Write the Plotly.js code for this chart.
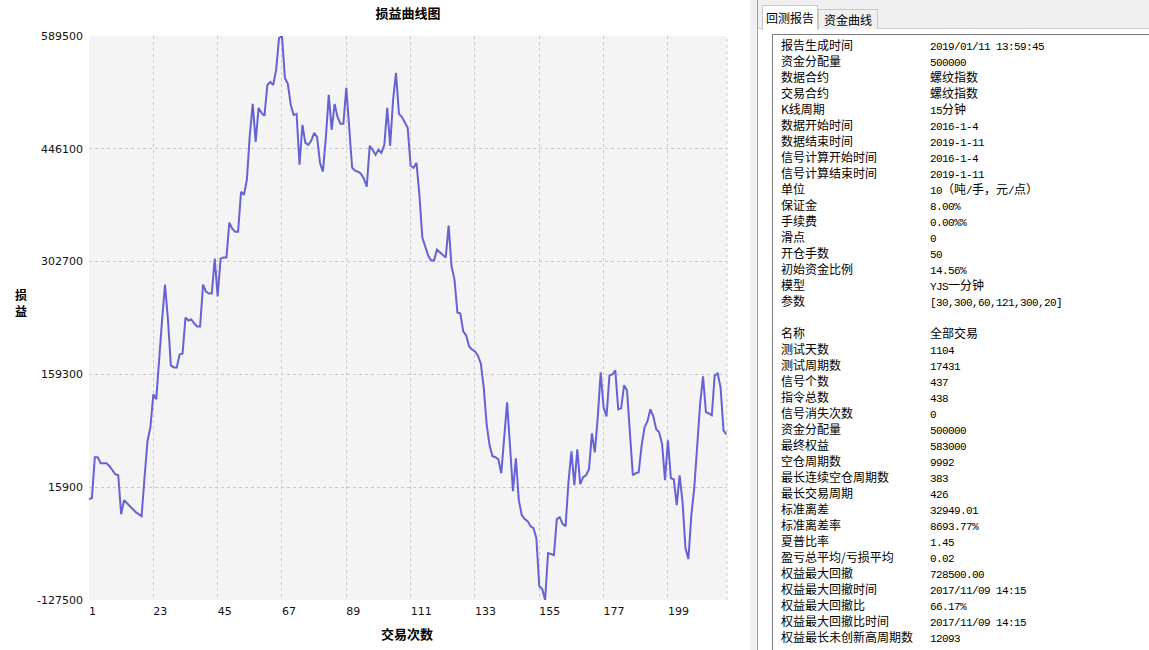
<!DOCTYPE html>
<html>
<head>
<meta charset="utf-8">
<script src="https://cdn.plot.ly/plotly-3.0.1.min.js"></script>
<style>
html, body { margin: 0; padding: 0; background: #fff; width: 1149px; height: 650px; overflow: hidden; }
#chart { position: absolute; left: 0; top: 0; width: 750px; height: 650px; }
#panel { position: absolute; left: 750px; top: 0; width: 399px; height: 650px; background: #f0f0f0; overflow: hidden;
  font-family: "Noto Sans CJK SC", sans-serif; font-size: 12px; color: #000; }
#splitline { position: absolute; left: 7px; top: 0; width: 1px; height: 650px; background: #a0a0a0; }
#page { position: absolute; left: 8px; top: 28px; width: 400px; height: 640px; background: #fff; border-top: 1px solid #d0d0d0; }
.tab { position: absolute; box-sizing: border-box; text-align: center; font-family: "Noto Sans CJK SC", sans-serif; font-size: 12px; }
#tab1 { left: 12px; top: 5px; width: 56px; height: 25px; line-height: 23px; background: #fff; border: 1px solid #c8c8c8; border-bottom: none; z-index: 2; }
#tab2 { left: 68px; top: 9px; width: 60px; height: 20px; line-height: 20px; background: #f0f0f0; border: 1px solid #c8c8c8; border-bottom: none; }
#list { position: absolute; left: 22px; top: 34px; width: 420px; height: 640px; background: #fff; border: 1px solid #7a7a7a; }
.row { position: absolute; height: 16px; line-height: 16px; white-space: nowrap; font-family: "Noto Sans CJK SC", sans-serif; }
.lab { left: 31px; }
.val { left: 180px; }
.asc { font-family: "Liberation Mono", monospace; font-size: 11px; letter-spacing: -0.6px; }
</style>
</head>
<body>
<div id="chart"></div>
<div id="panel">
  <div id="splitline"></div>
  <div id="page"></div>
  <div class="tab" id="tab1">回测报告</div>
  <div class="tab" id="tab2">资金曲线</div>
  <div id="list"></div>
</div>
<script>
// ---- chart data ----
const chartTitle = "损益曲线图";
const xTitle = "交易次数";
const yTitle = "损<br>益";
const xTickVals = [1, 23, 45, 67, 89, 111, 133, 155, 177, 199];
const yTickVals = [-127500, 15900, 159300, 302700, 446100, 589500];
const pnl = [
  700, 2000, 54000, 54000, 46400, 46400, 46400, 42600, 37500, 32400,
  31100, -18400, -600, -4400, -9500, -13300, -15800, -18400, -20900, 28600,
  74300, 92100, 133900, 127600, 180900, 229100, 273500, 229100, 170700, 168200,
  168200, 184700, 186000, 231600, 227800, 229100, 224000, 220200, 220200, 273500,
  264600, 262100, 262100, 306500, 258300, 306500, 307800, 307800, 352200, 344600,
  340800, 340800, 391500, 387700, 406800, 463900, 503200, 455000, 498100, 491800,
  488000, 527300, 531100, 527300, 546400, 587000, 589500, 536200, 528600, 501900,
  489200, 490500, 425800, 476600, 453700, 451200, 456300, 466400, 461300, 428300,
  416900, 460100, 514600, 470200, 503200, 486700, 477800, 477800, 523500, 476600,
  422000, 418200, 416900, 414400, 408000, 397900, 449900, 444800, 438500, 444800,
  441000, 451200, 498100, 449900, 508300, 542500, 490500, 486700, 480400, 472800,
  424500, 422000, 428300, 387700, 333200, 320500, 310300, 304000, 304000, 317900,
  314100, 310300, 307800, 348400, 296400, 279900, 238000, 236700, 213900, 208800,
  194800, 191000, 188500, 183400, 173300, 142800, 95900, 69200, 55300, 54000,
  51400, 33700, 74300, 123800, 67900, 10800, 52700, -600, -19600, -24700,
  -27200, -33600, -36100, -48800, -109700, -113500, -127500, -67800, -69100, -70400,
  -24700, -22200, -31000, -33600, 23500, 61600, 18500, 64100, 19700, 28600,
  31100, 38800, 84400, 60300, 104700, 161800, 117400, 106000, 158000, 159300,
  164400, 114900, 116200, 145400, 139000, 89500, 31100, 33700, 34900, 69200,
  92100, 99700, 114900, 106000, 89500, 85700, 70500, 24800, 75600, 27300,
  26100, -6900, 31100, -3100, -61500, -75500, -19600, 14600, 69200, 121200,
  156800, 111100, 109800, 107300, 158000, 160600, 142800, 88200, 83000
];
const tradeNo = pnl.map((_, i) => i + 1);

// ---- report panel data ----
const tabLabels = ["回测报告", "资金曲线"];
const reportLabels = ["报告生成时间","资金分配量","数据合约","交易合约","K线周期","数据开始时间","数据结束时间",
  "信号计算开始时间","信号计算结束时间","单位","保证金","手续费","滑点","开仓手数","初始资金比例","模型","参数"];
const reportValues = ["2019/01/11 13:59:45","500000","螺纹指数","螺纹指数","15分钟","2016-1-4","2019-1-11",
  "2016-1-4","2019-1-11","10（吨/手，元/点）","8.00%","0.00%%","0","50","14.56%","YJS一分钟","[30,300,60,121,300,20]"];
const statLabels = ["名称","测试天数","测试周期数","信号个数","指令总数","信号消失次数","资金分配量","最终权益",
  "空仓周期数","最长连续空仓周期数","最长交易周期","标准离差","标准离差率","夏普比率","盈亏总平均/亏损平均",
  "权益最大回撤","权益最大回撤时间","权益最大回撤比","权益最大回撤比时间","权益最长未创新高周期数"];
const statValues = ["全部交易","1104","17431","437","438","0","500000","583000","9992","383","426",
  "32949.01","8693.77%","1.45","0.02","728500.00","2017/11/09 14:15","66.17%","2017/11/09 14:15","12093"];

// ---- build panel ----
(function () {
  const panel = document.getElementById('panel');
  document.getElementById('tab1').textContent = tabLabels[0];
  document.getElementById('tab2').textContent = tabLabels[1];
  const rows = [];
  reportLabels.forEach((l, i) => rows.push([l, reportValues[i]]));
  rows.push(["", ""]);
  statLabels.forEach((l, i) => rows.push([l, statValues[i]]));
  rows.forEach((r, i) => {
    const top = 37 + 16 * i;
    const lab = document.createElement('div');
    lab.className = 'row lab';
    lab.style.top = top + 'px';
    lab.textContent = r[0];
    panel.appendChild(lab);
    const val = document.createElement('div');
    val.className = 'row val';
    val.style.top = top + 'px';
    r[1].split(/([\x20-\x7E]+)/).forEach(part => {
      if (!part) return;
      if (/^[\x20-\x7E]+$/.test(part)) {
        const s = document.createElement('span');
        s.className = 'asc';
        s.textContent = part;
        val.appendChild(s);
      } else {
        val.appendChild(document.createTextNode(part));
      }
    });
    panel.appendChild(val);
  });
})();

// ---- chart ----
const plotL = 89, plotR = 727, plotT = 36, plotB = 600, W = 750, H = 650;
const pxToPaperX = px => (px - plotL) / (plotR - plotL);
const pxToPaperY = py => (plotB - py) / (plotB - plotT);

const trace = {
  x: tradeNo, y: pnl, type: 'scatter', mode: 'lines',
  line: { color: '#6662d4', width: 2 }, hoverinfo: 'skip'
};
const gridDash = '3px,3px';
const gridColor = '#cacaca';
const layout = {
  width: W, height: H,
  margin: { l: plotL, r: W - plotR, t: plotT, b: H - plotB, pad: 0 },
  paper_bgcolor: '#ffffff', plot_bgcolor: '#f4f4f4',
  showlegend: false,
  title: { text: chartTitle, x: 0.5, xref: 'paper', y: 1 - 13 / H, yref: 'container', yanchor: 'middle',
    font: { family: 'Noto Sans CJK SC', size: 13, color: '#000', weight: 'bold' } },
  xaxis: {
    range: [1, 219.2], tickmode: 'array', tickvals: xTickVals, ticktext: xTickVals.map(String),
    showgrid: true, gridcolor: gridColor, griddash: gridDash, gridwidth: 1,
    zeroline: false, showline: false, ticks: '', ticklabelposition: 'outside right', ticklabelstandoff: 3,
    tickfont: { family: 'DejaVu Sans', size: 11, color: '#111' }, fixedrange: true
  },
  yaxis: {
    range: [-127500, 589500], tickmode: 'array', tickvals: yTickVals, ticktext: yTickVals.map(String),
    showgrid: true, gridcolor: gridColor, griddash: gridDash, gridwidth: 1,
    zeroline: false, showline: false, ticks: '', ticklabelstandoff: 5,
    tickfont: { family: 'DejaVu Sans', size: 11, color: '#111' }, fixedrange: true
  },
  shapes: [
    { type: 'line', xref: 'paper', yref: 'paper', x0: 1, x1: 1, y0: 0, y1: 1,
      line: { color: gridColor, width: 1, dash: gridDash } }
  ],
  annotations: [
    { text: xTitle, xref: 'paper', yref: 'paper', x: pxToPaperX(407), y: pxToPaperY(633),
      xanchor: 'center', yanchor: 'middle', showarrow: false,
      font: { family: 'Noto Sans CJK SC', size: 13, color: '#000', weight: 'bold' } },
    { text: yTitle, xref: 'paper', yref: 'paper', x: pxToPaperX(21), y: pxToPaperY(302),
      xanchor: 'center', yanchor: 'middle', showarrow: false,
      font: { family: 'Noto Sans CJK SC', size: 12, color: '#000', weight: 'bold' } }
  ]
};
Plotly.newPlot('chart', [trace], layout, { staticPlot: true, displayModeBar: false });
</script>
</body>
</html>
